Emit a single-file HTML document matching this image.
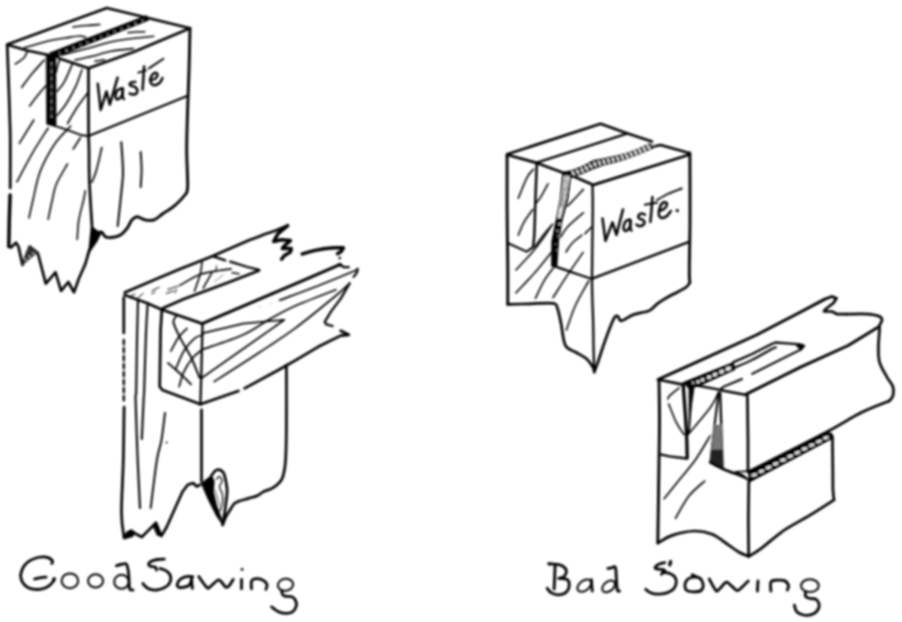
<!DOCTYPE html>
<html><head><meta charset="utf-8"><title>Good Sawing / Bad Sawing</title>
<style>
html,body{margin:0;padding:0;background:#fff;}
body{width:902px;height:622px;overflow:hidden;font-family:"Liberation Sans",sans-serif;}
svg{display:block;}
</style></head>
<body>
<svg width="902" height="622" viewBox="0 0 902 622" stroke-linecap="round" stroke-linejoin="round">
<defs><filter id="bl" filterUnits="userSpaceOnUse" x="0" y="0" width="902" height="622"><feGaussianBlur stdDeviation="0.8"/></filter></defs>
<rect width="902" height="622" fill="#fff"/>
<g filter="url(#bl)">
<path d="M7.2,44.6 L106.8,8 L143,16.8 L190,28.3" stroke="#000" stroke-width="2.7" fill="none"/>
<path d="M7.2,44.8 L27.3,50.5 L48.2,55" stroke="#000" stroke-width="2.7" fill="none"/>
<path d="M55.5,55.3 L59.5,58.5 L88.5,68.2" stroke="#000" stroke-width="2.7" fill="none"/>
<path d="M88.5,68.2 L133.5,52 L190,28.3" stroke="#000" stroke-width="2.7" fill="none"/>
<path d="M49.5,53 L146.5,15.6 L148.5,20.2 L54.5,57.5Z" fill="#000" stroke="#000" stroke-width="0.8"/>
<circle cx="59.5" cy="53" r="0.6" fill="#fff"/>
<circle cx="66.4" cy="50.3" r="0.6" fill="#fff"/>
<circle cx="73.3" cy="47.6" r="0.6" fill="#fff"/>
<circle cx="80.2" cy="44.9" r="0.6" fill="#fff"/>
<circle cx="87.2" cy="42.3" r="0.6" fill="#fff"/>
<circle cx="94.1" cy="39.6" r="0.6" fill="#fff"/>
<circle cx="101" cy="36.9" r="0.6" fill="#fff"/>
<circle cx="107.9" cy="34.2" r="0.6" fill="#fff"/>
<circle cx="114.8" cy="31.5" r="0.6" fill="#fff"/>
<circle cx="121.8" cy="28.9" r="0.6" fill="#fff"/>
<circle cx="128.7" cy="26.2" r="0.6" fill="#fff"/>
<circle cx="135.6" cy="23.5" r="0.6" fill="#fff"/>
<circle cx="142.5" cy="20.8" r="0.6" fill="#fff"/>
<path d="M190,28.3 C189.8,35.4 189.4,57.1 189,70.7 C188.6,84.3 188,96.8 187.6,110 C187.2,123.2 186.7,137.2 186.7,150 C186.7,162.8 188,179.4 187.6,187.1 C187.2,194.8 186.4,192.8 184,196 C181.6,199.2 176.9,203.7 173.4,206.6 C169.9,209.5 166,211.5 162.8,213.7 C159.6,215.9 156.9,218.9 154,219.9 C151.1,220.9 147.9,220.4 145.1,219.9 C142.3,219.4 139.4,216.8 137.2,216.8 C135,216.8 133.5,218.1 131.9,219.9 C130.3,221.7 129.3,225.3 127.4,227.8 C125.5,230.3 123.1,233.3 120.4,234.9 C117.8,236.5 114,237.2 111.5,237.5 C109,237.8 106.9,237.6 105.3,236.7 C103.7,235.8 102.9,232.9 101.8,232.2 C100.7,231.5 99.5,232.1 98.5,232.5 C97.5,232.9 96.7,235.7 95.6,234.9 C94.5,234.1 92.6,229 92,227.8" stroke="#000" stroke-width="2.9" fill="none"/>
<path d="M88.5,68.2 C88.5,75.2 88.5,98.7 88.5,110 C88.5,121.3 88.5,129.3 88.6,136 C88.7,142.7 88.9,142.4 89,150 C89.1,157.6 88.9,169.1 89.4,181.8 C89.9,194.5 91.6,218.6 92,226" stroke="#000" stroke-width="2.7" fill="none"/>
<path d="M88.6,136 L186.5,96.3" stroke="#000" stroke-width="2.3" fill="none"/>
<path d="M46.5,54.2 L55.8,55.5 L56,125.2 L47,124.2Z" fill="#000" stroke="#000" stroke-width="0.8"/>
<path d="M51.5,62 L51.6,118" stroke="#555" stroke-width="0.80" fill="none"/>
<circle cx="51.5" cy="63.8" r="0.5" fill="#fff"/>
<circle cx="51.5" cy="71.2" r="0.5" fill="#fff"/>
<circle cx="51.5" cy="78.8" r="0.5" fill="#fff"/>
<circle cx="51.5" cy="86.2" r="0.5" fill="#fff"/>
<circle cx="51.6" cy="93.8" r="0.5" fill="#fff"/>
<circle cx="51.6" cy="101.2" r="0.5" fill="#fff"/>
<circle cx="51.6" cy="108.8" r="0.5" fill="#fff"/>
<circle cx="51.6" cy="116.2" r="0.5" fill="#fff"/>
<path d="M48.5,123.8 L51.4,124.8 L64.3,128.8 L82,135.3 L88.6,136" stroke="#000" stroke-width="1.9" fill="none"/>
<path d="M7.2,44.8 C7.5,52 8.4,76.8 8.8,88 C9.2,99.2 9.3,103.3 9.6,112 C9.8,120.7 10.2,127.3 10.3,140 C10.4,152.7 10.2,180 10.2,188" stroke="#000" stroke-width="2.7" fill="none"/>
<path d="M10.1,195 C10,199.2 9.5,211.4 9.3,220 C9.1,228.6 8.9,242.2 8.8,246.6" stroke="#000" stroke-width="3.5" fill="none"/>
<path d="M8.8,246.6 L11,247.5 L16,242.6 L18.5,246.6 L22.5,265 L29.7,246.6 L37.8,253 L45.8,283.6 L55.5,272.3 L61.1,290.8 L68.3,282 L74,292.4 L78.8,278.8 L85.2,264.3 L90,248.2 L92,228" stroke="#000" stroke-width="2.7" fill="none"/>
<path d="M22.5,264 L29.7,246.6 L37.5,253 L33,256 L26,262Z" fill="#333" stroke="#333" stroke-width="0.8"/>
<circle cx="25.8" cy="259.5" r="0.7" fill="#fff"/>
<circle cx="29.5" cy="256.5" r="0.7" fill="#fff"/>
<circle cx="33.2" cy="253.5" r="0.7" fill="#fff"/>
<path d="M92.4,227 L101,233.5 L97,241.5 L89,253 L86.8,255 L90,246Z" fill="#000" stroke="#000" stroke-width="0.8"/>
<path d="M27.3,51.3 C26.8,52.4 26,55.6 24,57.7 C22,59.8 16.8,63 15.3,64" stroke="#000" stroke-width="1.6" fill="none"/>
<path d="M44.2,60 C42.2,62.3 35.8,69.2 32,73.8 C28.2,78.4 23.4,85.1 21.7,87.4" stroke="#000" stroke-width="1.6" fill="none"/>
<path d="M45.8,85.8 C44.3,87.5 39.7,92.9 37,96.3 C34.3,99.7 30.9,104.4 29.7,106" stroke="#000" stroke-width="1.6" fill="none"/>
<path d="M59.5,60 C59.1,61.3 57.5,66 57,68 C56.5,70 56.4,71.3 56.3,72" stroke="#000" stroke-width="1.6" fill="none"/>
<path d="M72.3,64 C71,67 66.8,77.2 64.3,81.8 C61.8,86.4 58.2,89.8 57,91.4" stroke="#000" stroke-width="1.6" fill="none"/>
<path d="M82,69.7 C80.9,72.5 78.3,80.8 75.6,86.6 C72.9,92.4 69,99.5 65.9,104.3 C62.8,109.1 58.5,113.7 57,115.6" stroke="#000" stroke-width="1.6" fill="none"/>
<path d="M87.6,93 C85.8,95.4 80.3,102.4 77,107.5 C73.7,112.6 69.1,120.9 67.5,123.6" stroke="#000" stroke-width="1.6" fill="none"/>
<path d="M33.8,120 L19.3,143.3" stroke="#000" stroke-width="1.6" fill="none"/>
<path d="M48.2,128 C45.5,132.3 37.2,144.8 32,153.8 C26.8,162.8 19.4,177.2 16.9,181.9" stroke="#000" stroke-width="1.6" fill="none"/>
<path d="M70.7,126 C68,129 59.8,136.4 54.7,144 C49.6,151.6 43.8,162.1 40.2,171.4 C36.6,180.7 34.9,192.2 33,200 C31.1,207.8 29.7,215 29,218" stroke="#000" stroke-width="1.6" fill="none"/>
<path d="M67.5,164 C65.6,167.4 58.8,178.3 56.3,184.3 C53.8,190.3 53.6,194.2 52.3,200 C50.9,205.8 48.9,216.1 48.2,219.3" stroke="#000" stroke-width="1.6" fill="none"/>
<path d="M80.4,137.7 L73.2,149" stroke="#000" stroke-width="1.6" fill="none"/>
<path d="M85.2,190.7 C84.9,192.2 84.7,195.1 83.6,200 C82.5,204.9 79.9,213.4 78.8,220 C77.7,226.6 77.5,236.2 77.2,239.4" stroke="#000" stroke-width="1.6" fill="none"/>
<path d="M72.9,27 C75.1,26.8 81.5,25.9 86,25.5 C90.5,25.1 97.6,24.7 99.9,24.5" stroke="#000" stroke-width="1.6" fill="none"/>
<path d="M24,48 C28,46.8 41.2,42.7 48,41 C54.8,39.3 59.7,38.8 65,38 C70.3,37.2 76.2,36.1 79.6,36 C83,35.9 84.6,37.2 85.6,37.4" stroke="#000" stroke-width="1.6" fill="none"/>
<path d="M128,32.7 C129.3,32.6 133.2,32.1 136,32 C138.8,31.9 143.3,31.8 144.8,31.8" stroke="#000" stroke-width="1.6" fill="none"/>
<path d="M62,55 C66.7,53.8 80.9,50.1 90,47.7 C99.1,45.3 105.9,42.6 116.5,40.7 C127.1,38.8 147.5,37 153.7,36.3" stroke="#000" stroke-width="1.6" fill="none"/>
<path d="M75,60 C77.8,59.4 86,57.8 92,56.3 C98,54.8 104.1,52.6 111,51.3 C117.9,50 129.6,49 133.3,48.6" stroke="#000" stroke-width="1.6" fill="none"/>
<path d="M94.9,61.2 L104.5,59.7" stroke="#000" stroke-width="1.6" fill="none"/>
<path d="M101.8,147.5 C100.9,151.2 98.1,164.2 96.5,170 C94.9,175.8 92.8,180 92,182" stroke="#000" stroke-width="1.7" fill="none"/>
<path d="M121.3,142.2 C121.6,146.8 122.9,162.8 123,170 C123.1,177.2 123,176.1 122.1,185.4 C121.2,194.7 118.4,219.2 117.7,226" stroke="#000" stroke-width="2" fill="none"/>
<path d="M140.7,152 C140.8,154.9 141.6,163.7 141.6,169.5 C141.6,175.3 140.8,184.2 140.7,187.1" stroke="#000" stroke-width="1.9" fill="none"/>
<path d="M97.8,83.8 L100.7,109.9 L106.5,91.5 L109.8,104.6 L117.6,77.6" stroke="#000" stroke-width="2.5" fill="none"/>
<path d="M122.5,88.2 C121.6,88.6 118.2,89.1 117.1,90.6 C115.9,92.1 115.4,95.8 115.6,97.3 C115.8,98.8 117,99.6 118,99.3 C119,99 121.1,97.2 121.9,95.4 C122.7,93.6 122.7,89.8 122.9,88.7" stroke="#000" stroke-width="2.5" fill="none"/>
<path d="M122.9,88.7 L122.6,97.5 L124,99" stroke="#000" stroke-width="2.5" fill="none"/>
<path d="M135.4,81.9 C134.6,82.1 131.5,82.3 130.6,82.9 C129.7,83.5 129.5,84.7 130.1,85.3 C130.7,85.9 133.2,86 134.4,86.7 C135.6,87.4 137,88.5 137.3,89.6 C137.6,90.7 137.2,92.7 136.4,93.5 C135.6,94.3 133.6,94.4 132.5,94.4 C131.4,94.4 130.1,93.7 129.6,93.5" stroke="#000" stroke-width="2.5" fill="none"/>
<path d="M144.1,66.5 L142.6,89.6" stroke="#000" stroke-width="2.5" fill="none"/>
<path d="M138.3,72.7 L146,70.3" stroke="#000" stroke-width="1.9" fill="none"/>
<path d="M148.9,68.4 L163.4,58.8" stroke="#000" stroke-width="1.9" fill="none"/>
<path d="M149.9,80 C150.7,79.8 153.4,79.8 154.7,79 C156,78.2 157.4,76.1 157.6,75.1 C157.8,74 156.6,72.8 155.7,72.7 C154.8,72.6 153.2,73.5 152.3,74.7 C151.4,75.9 150.5,78.4 150.4,80 C150.3,81.6 150.8,83.5 151.8,84.3 C152.8,85.1 155.2,85.2 156.6,84.8 C158,84.4 159.5,83 160.5,81.9 C161.5,80.8 162.1,78.7 162.4,78" stroke="#000" stroke-width="2.5" fill="none"/>
<path d="M124.7,292.4 L153.9,280 L180,268.9 L202.2,260.3 L212.8,255.9 L249.5,240 L257.9,237 L263.8,234.5 L274.5,231 L287.7,225.6" stroke="#000" stroke-width="2.7" fill="none"/>
<path d="M287.7,225.6 L278,233.6 L273.6,241.5 L281.5,239.8 L290.4,240.6 L284.2,246 L282.4,248.6 L291.3,248.6 L290.4,252.1 L284.2,255.7 L281.5,259.2" stroke="#000" stroke-width="3.5" fill="none"/>
<path d="M302.2,254 C304.6,253.3 311.8,251.1 316.6,250.1 C321.4,249.1 326.6,248.3 331,247.9 C335.4,247.5 341.2,247.9 343.3,247.9" stroke="#000" stroke-width="3.5" fill="none"/>
<path d="M343.3,247.9 L341.1,251.5 L337.5,253.7" stroke="#000" stroke-width="3.5" fill="none"/>
<ellipse cx="339.8" cy="258" rx="1.6" ry="1.1" transform="rotate(-30 339.8 258)" fill="#000"/>
<path d="M339.1,264 L344,267.2 L348.8,267.2" stroke="#000" stroke-width="2.3" fill="none"/>
<path d="M124.7,295 L146.8,303 L161,309.2" stroke="#000" stroke-width="2.7" fill="none"/>
<path d="M162.8,308.3 L183.9,298.9 L228.2,282.5 L259.1,270.4" stroke="#000" stroke-width="2.7" fill="none"/>
<path d="M213.3,256.4 L225.3,260.3" stroke="#000" stroke-width="2.3" fill="none"/>
<path d="M230.2,261.7 L247.5,267 L259.1,269.9" stroke="#000" stroke-width="2.3" fill="none"/>
<path d="M202.2,260.7 C201.9,262.9 201.6,268.7 200.3,273.8 C199,278.9 195.5,288.2 194.5,291.1" stroke="#000" stroke-width="1.6" fill="none"/>
<path d="M211.8,272.8 L203.2,288.2" stroke="#000" stroke-width="1.6" fill="none"/>
<path d="M216.7,266 L215.7,271.8" stroke="#000" stroke-width="1" fill="none"/>
<path d="M180,285.3 C183.2,283.5 193.2,277.1 199.3,274.7 C205.4,272.3 211.4,271.9 216.7,270.9 C222,269.9 228.7,269.2 231.1,268.9" stroke="#000" stroke-width="1.6" fill="none"/>
<path d="M232.1,272.8 L238.9,273.8" stroke="#000" stroke-width="1.6" fill="none"/>
<path d="M214.7,281.5 L223.4,274.7" stroke="#666" stroke-width="0.80" fill="none"/>
<path d="M138,297.8 L143.3,293.4" stroke="#000" stroke-width="1" fill="none"/>
<path d="M152.1,290.7 L159.2,287.2" stroke="#000" stroke-width="1" fill="none"/>
<path d="M166.3,293.4 L173.4,291" stroke="#000" stroke-width="1" fill="none"/>
<path d="M151.8,293.7 L155,292" stroke="#000" stroke-width="1" fill="none"/>
<path d="M176.5,289.2 L174.8,292.8" stroke="#000" stroke-width="1" fill="none"/>
<path d="M167.7,289.5 L178.3,286" stroke="#000" stroke-width="1" fill="none"/>
<path d="M131,296 L135,294" stroke="#000" stroke-width="1" fill="none"/>
<path d="M123.8,297.7 L123.8,333" stroke="#000" stroke-width="2.7" fill="none"/>
<path d="M123.8,340 L123.8,344.5" stroke="#000" stroke-width="2.3" fill="none"/>
<path d="M123.8,348 L123.8,352.5" stroke="#000" stroke-width="2.3" fill="none"/>
<path d="M123.8,356 L123.8,360.5" stroke="#000" stroke-width="2.3" fill="none"/>
<path d="M123.8,364 L123.8,368.5" stroke="#000" stroke-width="2.3" fill="none"/>
<path d="M123.8,372 L123.8,376.5" stroke="#000" stroke-width="2.3" fill="none"/>
<path d="M123.8,380 L123.8,384.5" stroke="#000" stroke-width="2.3" fill="none"/>
<path d="M123.8,388 L123.8,392.5" stroke="#000" stroke-width="2.3" fill="none"/>
<path d="M123.8,396 L123.8,400.5" stroke="#000" stroke-width="2.3" fill="none"/>
<path d="M124.1,407 C124,415.8 123.7,442.3 123.3,460 C122.9,477.7 121.4,500 121.5,513 C121.6,526 123.7,533.7 124.1,537.8" stroke="#000" stroke-width="2.7" fill="none"/>
<path d="M138,299.5 C137.8,306.2 137.3,324.9 137,340 C136.7,355.1 136.4,380 136.2,390 C136,400 135.4,389.5 135.6,400 C135.8,410.5 136.7,435 137.4,453 C138.1,471 139.6,498.8 140,508" stroke="#000" stroke-width="2.1" fill="none"/>
<path d="M147.7,303 C147.4,308 146.6,318.5 146,333 C145.4,347.5 144.6,378.8 144.2,390 C143.8,401.2 144,391.8 143.6,400 C143.2,408.2 142.1,432.5 141.8,439" stroke="#000" stroke-width="2.1" fill="none"/>
<path d="M165,413 C164.4,417.5 162.8,432.2 161.5,440 C160.2,447.8 158.7,448.7 156.9,460 C155.1,471.3 151.7,500 150.7,508" stroke="#000" stroke-width="1.9" fill="none"/>
<circle cx="166.6" cy="442.4" r="1" fill="#000"/>
<path d="M161.9,309.2 L160.6,330 L159.7,386.6 L162.4,390 L200.4,404.3" stroke="#000" stroke-width="2.7" fill="none"/>
<path d="M162.8,310 L202.2,323.6" stroke="#000" stroke-width="2.7" fill="none"/>
<path d="M202.5,324.2 L201.3,374.2 L200.4,404.3" stroke="#000" stroke-width="2.3" fill="none"/>
<path d="M176,316.3 C175.6,317.3 172.9,319.1 173.5,322.5 C174.1,325.9 177.2,331.9 179.5,336.6 C181.8,341.3 185.3,346.8 187.5,350.7 C189.7,354.6 190.4,355.5 192.4,360 C194.4,364.5 198.3,374.8 199.5,377.7" stroke="#000" stroke-width="1.9" fill="none"/>
<path d="M168,363 C169.4,364.2 174.2,368.3 176.7,370.5 C179.2,372.7 180.6,374.1 183,376.4 C185.4,378.7 189.7,383 191,384.3" stroke="#000" stroke-width="1.9" fill="none"/>
<path d="M170.9,351 C172.2,348.8 175.8,341.2 178.5,337.5 C181.2,333.8 185.6,330 187,328.5" stroke="#000" stroke-width="1.7" fill="none"/>
<path d="M176,368.4 C177.3,365.4 180.9,355.7 184,350.7 C187.1,345.7 191.4,341 194.6,338.4 C197.8,335.8 201.6,335.4 203,334.8" stroke="#000" stroke-width="1.7" fill="none"/>
<path d="M179.2,386.6 C179.9,384.2 181.4,377.1 183.6,372.4 C185.8,367.7 189.3,362.1 192.4,358.3 C195.5,354.5 200.6,351 202.2,349.5" stroke="#000" stroke-width="1.7" fill="none"/>
<path d="M202.2,323.6 L270,294.6 L302.2,280.9 L337.5,265.6 L340.7,264.8" stroke="#000" stroke-width="3.1" fill="none"/>
<path d="M203,333.2 L243.2,323.6 L284.4,319.8 L243,349 L201.4,378.2" stroke="#000" stroke-width="1.7" fill="none"/>
<path d="M203,349.3 C209.7,346.9 232,339.9 243.2,334.8 C254.4,329.8 261.4,323.8 270,319 C278.6,314.2 284,310.9 295,306 C306,301.1 329.1,292.4 335.9,289.7" stroke="#000" stroke-width="1.7" fill="none"/>
<path d="M214.3,381.5 C221.8,376.7 245.9,361.4 259.3,352.5 C272.8,343.6 282.5,337.6 295,328.4 C307.5,319.1 325.2,304.5 334.3,297 C343.4,289.5 347.1,285.6 349.6,283.3" stroke="#000" stroke-width="1.7" fill="none"/>
<path d="M279.6,300.2 C286,297.8 305.9,290.5 318.2,285.7 C330.5,280.9 347,274.1 353.6,271.3 C360.2,268.5 356.9,269.2 357.6,268.8" stroke="#000" stroke-width="1.7" fill="none"/>
<path d="M357.6,268.8 L356.8,272.9 L353.6,276.9" stroke="#000" stroke-width="2.3" fill="none"/>
<circle cx="259.3" cy="306.7" r="0.6" fill="#888"/>
<circle cx="270.6" cy="303.5" r="0.6" fill="#888"/>
<path d="M349.6,283.3 L340.7,298.6 L331.1,311.4 L324.7,321.9 L326.3,324.3 L332.7,326" stroke="#000" stroke-width="2.3" fill="none"/>
<path d="M340.7,330.7 L348.8,334.8 L340.7,335.6 L318.2,346.8 L295,360.6 L278.4,370 L244.6,388.4" stroke="#000" stroke-width="2.7" fill="none"/>
<path d="M238.4,391 L200.4,404.3" stroke="#000" stroke-width="2.7" fill="none"/>
<path d="M201.5,409.8 L201.5,481.4" stroke="#000" stroke-width="2.7" fill="none"/>
<path d="M286.4,365 C286.4,375.3 286.5,410.6 286.4,426.6 C286.2,442.6 286.2,452.5 285.5,461.2 C284.8,469.9 284.1,474.5 282,478.9 C279.9,483.3 276.1,485.6 273.1,487.7 C270.2,489.8 267,490 264.3,491.3 C261.6,492.6 259.8,494.5 257.2,495.7 C254.5,496.9 251.3,497.5 248.4,498.4 C245.5,499.3 241.9,500.1 239.5,501 C237.1,501.9 235.7,502.4 234.2,503.7 C232.7,505 232.2,506.6 230.7,509 C229.2,511.4 226.7,515.1 225.4,517.8 C224.1,520.4 223.1,523.7 222.7,524.9" stroke="#000" stroke-width="2.7" fill="none"/>
<path d="M201.5,483.3 L208,478 L211.5,475.5 L214.2,481 L213.5,492 L216.5,505 L221,517 L222.7,524.9 L216.5,516 L207.7,498.4 L202.4,486Z" fill="#000" stroke="#000" stroke-width="0.8"/>
<path d="M211.5,475.5 C212.3,474.6 214.6,470.6 216.5,470 C218.4,469.4 221.2,470.3 222.7,471.8 C224.2,473.3 224.7,475.6 225.4,478.9 C226.1,482.1 227.1,486.6 227.1,491.3 C227.1,496 226.1,501.6 225.4,507.2 C224.7,512.8 223.1,521.9 222.7,524.9" stroke="#000" stroke-width="2.7" fill="none"/>
<path d="M216.5,479 C217,478.6 218.6,476.2 219.5,476.5 C220.4,476.8 222,479.2 222,481 C222,482.8 219.4,484.8 219.5,487 C219.6,489.2 221.8,491.3 222.3,494 C222.8,496.7 222.9,500.2 222.5,503 C222.1,505.8 220.4,509.7 220,511" stroke="#000" stroke-width="1.3" fill="none"/>
<path d="M215,490 C215.4,491.3 216.8,495.3 217.5,498 C218.2,500.7 219.2,504.7 219.5,506" stroke="#444" stroke-width="1" fill="none"/>
<path d="M124.1,537.8 L127.7,532.5 L131.2,530.7 L136.5,534.3 L141.8,537 L148.9,529.9 L156,522.8 L161.3,536 L166.6,527.2 L173.7,511.3 L182.5,491.8 L187.8,484.8 L193.1,483 L196.7,486.5 L200.2,484.8" stroke="#000" stroke-width="2.7" fill="none"/>
<path d="M124.1,538.5 L126.5,532.5 L131.2,530.7 L134.5,533.5 L133,536.5 L126,538.6Z" fill="#000" stroke="#000" stroke-width="0.8"/>
<path d="M153,525.5 L156,522.8 L161.3,536 L157.5,535.5Z" fill="#000" stroke="#000" stroke-width="0.8"/>
<path d="M507.1,154.2 L600.6,123.8 L625.4,132.7 L651.9,141.5" stroke="#000" stroke-width="2.7" fill="none"/>
<path d="M536.8,162.6 L582,148.2 L627.7,133.4" stroke="#000" stroke-width="2.3" fill="none"/>
<path d="M507.1,154.8 L536.8,162.9 L562.5,172.5" stroke="#000" stroke-width="2.7" fill="none"/>
<path d="M563.5,172 L571.1,170.8 L582.2,166.6 L593.3,160.6 L604.3,158.6 L615.4,156.2 L626.5,153.4 L637.6,149.2 L648.7,144.2 L652.5,142 L653.5,147.8 L648.7,150 L637.6,154.6 L626.5,158.8 L615.4,162.2 L604.3,164.8 L593.3,168.8 L582.2,173.6 L571.1,177.6 L565,177Z" fill="#000" stroke="#000" stroke-width="0.8"/>
<line x1="572.7" y1="172.3" x2="573.9" y2="174.5" stroke="#fff" stroke-width="1.9"/>
<line x1="577.1" y1="170.7" x2="578.3" y2="172.8" stroke="#fff" stroke-width="1.9"/>
<line x1="581.5" y1="169" x2="582.8" y2="171.2" stroke="#fff" stroke-width="1.9"/>
<line x1="585.6" y1="167.1" x2="587.1" y2="169.1" stroke="#fff" stroke-width="1.9"/>
<line x1="589.8" y1="165" x2="591.3" y2="167" stroke="#fff" stroke-width="1.9"/>
<line x1="594.4" y1="163.1" x2="595.4" y2="165.4" stroke="#fff" stroke-width="1.9"/>
<line x1="598.9" y1="161.9" x2="600" y2="164.2" stroke="#fff" stroke-width="1.9"/>
<line x1="603.4" y1="160.7" x2="604.5" y2="162.9" stroke="#fff" stroke-width="1.9"/>
<line x1="608.1" y1="159.6" x2="609" y2="161.9" stroke="#fff" stroke-width="1.9"/>
<line x1="612.7" y1="158.6" x2="613.6" y2="160.9" stroke="#fff" stroke-width="1.9"/>
<line x1="617.2" y1="157.4" x2="618.2" y2="159.7" stroke="#fff" stroke-width="1.9"/>
<line x1="621.7" y1="156.2" x2="622.8" y2="158.4" stroke="#fff" stroke-width="1.9"/>
<line x1="626.1" y1="154.9" x2="627.4" y2="157.1" stroke="#fff" stroke-width="1.9"/>
<line x1="630.5" y1="153.3" x2="631.8" y2="155.4" stroke="#fff" stroke-width="1.9"/>
<line x1="634.9" y1="151.6" x2="636.2" y2="153.8" stroke="#fff" stroke-width="1.9"/>
<line x1="639.2" y1="149.9" x2="640.6" y2="152" stroke="#fff" stroke-width="1.9"/>
<line x1="643.5" y1="148" x2="644.9" y2="150.1" stroke="#fff" stroke-width="1.9"/>
<line x1="647.8" y1="146.1" x2="649.2" y2="148.2" stroke="#fff" stroke-width="1.9"/>
<line x1="652" y1="144.1" x2="653.5" y2="146" stroke="#fff" stroke-width="1.9"/>
<path d="M651.9,146.8 L660.7,145 L689,153" stroke="#000" stroke-width="2.7" fill="none"/>
<path d="M572.1,175.7 L592.2,184.6" stroke="#000" stroke-width="2.7" fill="none"/>
<path d="M593.5,184.9 L689,154.8" stroke="#000" stroke-width="2.7" fill="none"/>
<path d="M689.9,153 C689.9,164.2 690.1,200.3 690,220 C689.9,239.7 689.3,260.8 689.3,271.2 C689.3,281.6 689.8,280.6 689.9,282.5" stroke="#000" stroke-width="2.9" fill="none"/>
<path d="M592.4,184.8 C592.5,189 592.9,194.3 592.8,210 C592.7,225.7 592,260.7 592,279 C592,297.3 592.8,308.2 593.1,320 C593.4,331.8 593.4,341.3 593.6,350 C593.8,358.7 594.1,368.3 594.2,372" stroke="#000" stroke-width="2.3" fill="none"/>
<path d="M593.5,278.2 L689,241.9" stroke="#000" stroke-width="2.5" fill="none"/>
<path d="M507.1,154.8 C507.1,164 507,190.8 507.1,210 C507.2,229.2 507.7,254.3 507.8,270 C507.9,285.7 507.8,298.7 507.8,304.4" stroke="#000" stroke-width="2.9" fill="none"/>
<path d="M507.8,304.4 C511.5,304.3 522.4,304 530,303.8 C537.6,303.6 548.6,302.5 553.2,303.3 C557.8,304.1 556.3,305.5 557.6,308.8 C558.9,312.1 559.7,317.1 561,323.2 C562.3,329.3 563,340.6 565.4,345.4 C567.8,350.2 571.9,349.8 575.4,352 C578.9,354.2 583.5,356.1 586.5,358.7 C589.5,361.3 591.8,365.4 593.1,367.6 C594.4,369.8 594,371.3 594.2,372" stroke="#000" stroke-width="2.7" fill="none"/>
<path d="M594.2,372 C594.8,370.5 595.9,367.9 597.6,363.1 C599.3,358.3 602.1,349.1 604.2,343.2 C606.3,337.3 608.3,331.8 610,327.5 C611.7,323.2 613.2,319.3 614.5,317.4 C615.8,315.5 616.8,315.6 617.9,316.2 C619,316.8 618.9,321 621.3,320.8 C623.7,320.6 629.3,316.4 632.5,315.1 C635.7,313.8 637.6,313.6 640.4,312.9 C643.2,312.1 646.6,312.1 649.4,310.6 C652.2,309.1 654.8,305.8 657.2,303.9 C659.6,302 661.4,301 664,299.4 C666.6,297.8 669.8,296 673,294.3 C676.2,292.6 680.7,290.6 683.1,289.2 C685.5,287.8 686.5,287 687.6,285.9 C688.7,284.8 689.5,283.1 689.9,282.5" stroke="#000" stroke-width="2.7" fill="none"/>
<path d="M536.8,162.9 C536.6,169.1 535.8,188 535.4,200 C535,212 534.7,227.1 534.3,235 C533.9,242.9 533.2,245.4 533,247.5" stroke="#000" stroke-width="2.5" fill="none"/>
<path d="M507.1,242.7 L526.5,251.6 L532.7,247.5" stroke="#000" stroke-width="2.1" fill="none"/>
<path d="M562.8,172.6 L560.3,198.8 L556,220.7 L551.8,241 L551.6,266.3 L554.5,267.5 L556.9,266.3 L558.6,241 L562,220.7 L567.9,198.8 L571.2,173.4Z" fill="#000" stroke="#000" stroke-width="0.8"/>
<path d="M564.6,176.5 L563.2,190 L561.8,200 L559.5,211 L558.3,218 L560,218 L562.6,208 L565.4,198 L567.2,186 L569,176.5Z" fill="#fff" stroke="#fff" stroke-width="0.8"/>
<path d="M566.5,177 C566.3,178.8 565.8,184.3 565.2,188 C564.7,191.7 563.8,195.8 563.2,199 C562.6,202.2 561.7,205.7 561.4,207" stroke="#000" stroke-width="1" fill="none"/>
<circle cx="559.5" cy="224" r="0.9" fill="#fff"/>
<circle cx="557.5" cy="231" r="0.8" fill="#fff"/>
<circle cx="558.2" cy="236" r="0.7" fill="#fff"/>
<circle cx="555.8" cy="244" r="0.6" fill="#fff"/>
<circle cx="556.5" cy="250" r="0.5" fill="#fff"/>
<path d="M555.7,266.6 C558.2,267.5 564.7,269.8 570.7,271.9 C576.8,274 588.5,277.8 592,279" stroke="#000" stroke-width="2.3" fill="none"/>
<path d="M533.5,169.3 C532.4,170.6 529.6,172.5 527.1,177.3 C524.6,182.1 519.8,194.7 518.3,198.2" stroke="#000" stroke-width="1.6" fill="none"/>
<path d="M532.7,209.5 C531.2,211.6 526.3,218 523.9,222.3 C521.5,226.6 519.2,233 518.3,235.2" stroke="#000" stroke-width="1.6" fill="none"/>
<path d="M548,183.8 C546.7,186.2 542,195 540,198.2 C538,201.4 536.7,202.2 536,203" stroke="#000" stroke-width="1.6" fill="none"/>
<path d="M552.8,224 C551.2,225.9 546.1,231.4 543.2,235.2 C540.3,238.9 536.5,244.6 535.2,246.5" stroke="#000" stroke-width="1.6" fill="none"/>
<path d="M583.4,189.4 C581.5,191.4 574.8,198.6 572.1,201.4 C569.4,204.2 568.1,205.5 567.3,206.3" stroke="#000" stroke-width="1.6" fill="none"/>
<path d="M583.4,212.7 C580.7,215.1 571,223.2 567.3,227.2 C563.5,231.2 562,235.2 560.9,236.8" stroke="#000" stroke-width="1.6" fill="none"/>
<path d="M581.8,235.2 C580.2,236.5 574.7,240.4 572.1,243.2 C569.5,246 567,250.5 566,252" stroke="#000" stroke-width="1.6" fill="none"/>
<path d="M591.4,227.2 L585,233.6" stroke="#000" stroke-width="1.6" fill="none"/>
<path d="M515.9,270 C518.9,266.8 528.9,256.2 533.6,250.7 C538.3,245.2 541,241.1 544,237 C547,232.9 550.1,227.8 551.3,226" stroke="#000" stroke-width="1.6" fill="none"/>
<path d="M515.9,293 C519.1,289.5 529.5,278.7 535.4,271.9 C541.3,265.1 548.6,255.7 551.3,252.4" stroke="#000" stroke-width="1.6" fill="none"/>
<path d="M535.4,298.4 C536.9,295.4 541.3,285.7 544.2,280.7 C547.1,275.7 551.5,270.4 553,268.4" stroke="#000" stroke-width="1.6" fill="none"/>
<path d="M553,297.7 C555.4,294 562.2,282.9 567.2,275.4 C572.2,267.8 580.5,256.2 583.1,252.4" stroke="#000" stroke-width="1.6" fill="none"/>
<path d="M566.5,329.9 C568,325.8 571.7,313.6 575.4,305.5 C579.1,297.4 586.5,285.1 588.7,281" stroke="#000" stroke-width="1.6" fill="none"/>
<path d="M602.5,218.4 L605.5,240.9 L612.5,222.4 L616.5,234.9 L623,209.4" stroke="#000" stroke-width="2.5" fill="none"/>
<path d="M629.8,219.5 C629.1,219.8 626.5,220.1 625.5,221.5 C624.5,222.9 623.5,226.4 623.5,228 C623.5,229.6 624.5,231.1 625.5,231 C626.5,230.9 628.7,229.2 629.5,227.5 C630.3,225.8 630.3,221.7 630.5,220.5" stroke="#000" stroke-width="2.5" fill="none"/>
<path d="M630.5,220.5 L630.3,229 L631.5,230.5" stroke="#000" stroke-width="2.5" fill="none"/>
<path d="M645,214.6 C644.4,214.4 642.6,213.4 641.5,213.6 C640.4,213.8 638.7,214.8 638.4,215.6 C638.1,216.4 638.7,217.9 639.5,218.6 C640.3,219.3 642.1,219.3 643,220 C643.9,220.7 644.7,221.7 644.6,222.6 C644.5,223.5 643.5,224.8 642.5,225.4 C641.5,226 639.5,226.1 638.5,225.9 C637.5,225.8 636.8,224.7 636.4,224.5" stroke="#000" stroke-width="2.5" fill="none"/>
<path d="M652.4,197 L651.5,210 L650.4,221.9" stroke="#000" stroke-width="2.5" fill="none"/>
<path d="M644.9,204.8 L650,203.8 L656.9,202.8" stroke="#000" stroke-width="2.1" fill="none"/>
<path d="M656.9,200 C658.7,199 663.8,195.9 667.9,194 C672,192.1 679.5,189.4 681.8,188.5" stroke="#000" stroke-width="1.9" fill="none"/>
<path d="M658.9,211 C659.7,210.7 662.6,210 663.9,209 C665.2,208 666.6,206.1 666.9,205 C667.2,203.9 666.6,202.8 665.9,202.5 C665.1,202.2 663.5,201.9 662.4,203 C661.3,204.1 660,207 659.4,209 C658.8,211 658.5,213.5 658.9,215 C659.3,216.5 660.6,217.8 661.9,218 C663.2,218.2 665.4,217.2 666.9,216 C668.4,214.8 670.2,211.8 670.9,211" stroke="#000" stroke-width="2.5" fill="none"/>
<circle cx="677.3" cy="210.6" r="1.7" fill="#000"/>
<path d="M658,379.5 L680,369.6 L756.4,335 L793,316 L824.9,299.1 L832,296.5 L836.4,298.3" stroke="#000" stroke-width="2.9" fill="none"/>
<path d="M836.4,298.3 L833.7,302.7 L824.9,309.8 L824,311.5 L832,311.5 L837.3,314.2 L846.1,314.2" stroke="#000" stroke-width="2.7" fill="none"/>
<path d="M846.1,314.2 C849.7,314.2 861.9,313.7 867.5,314.1 C873.1,314.5 877.2,315.5 879.6,316.5 C882,317.5 882,318.7 882,320.1 C882,321.5 880,324.2 879.6,325" stroke="#000" stroke-width="2.7" fill="none"/>
<path d="M879.6,328.6 C879.4,331.8 878.4,342.3 878.4,347.9 C878.4,353.5 878.2,357.5 879.6,362.3 C881,367.1 884.6,372.8 886.8,376.8 C889,380.8 891.8,383.3 892.8,386.5 C893.8,389.7 893.4,393.7 892.8,396.1 C892.2,398.5 889.8,400.1 889.2,400.9" stroke="#000" stroke-width="2.7" fill="none"/>
<path d="M889.2,400.9 C884.4,402.9 871,407.6 860.3,413 C849.6,418.4 843.6,423.2 824.9,433 C806.2,442.8 760.8,465.5 748,472" stroke="#000" stroke-width="2.7" fill="none"/>
<path d="M746.3,394.1 L800,367.4 L848.2,345.5 L879.6,326.2" stroke="#000" stroke-width="2.9" fill="none"/>
<path d="M683,382.5 L733.3,362.4 L735,369.6 L700,385.4 L689.5,388.8Z" fill="#000" stroke="#000" stroke-width="0.8"/>
<ellipse cx="692.9" cy="383.4" rx="1.50" ry="1.25" transform="rotate(-20 692.9 383.4)" fill="#fff"/>
<ellipse cx="698.1" cy="381.7" rx="1.72" ry="1.30" transform="rotate(-20 698.1 381.7)" fill="#fff"/>
<ellipse cx="702.6" cy="379.8" rx="1.94" ry="1.35" transform="rotate(-20 702.6 379.8)" fill="#fff"/>
<ellipse cx="709.1" cy="377.1" rx="2.16" ry="1.40" transform="rotate(-20 709.1 377.1)" fill="#fff"/>
<ellipse cx="714.9" cy="374.5" rx="2.38" ry="1.45" transform="rotate(-20 714.9 374.5)" fill="#fff"/>
<ellipse cx="721.6" cy="371.7" rx="2.60" ry="1.50" transform="rotate(-20 721.6 371.7)" fill="#fff"/>
<ellipse cx="728.3" cy="368.7" rx="2.82" ry="1.55" transform="rotate(-20 728.3 368.7)" fill="#fff"/>
<path d="M733,362.4 L751.6,354.2 L772.3,343.8 L775.6,342.5 L799.6,344.4 L804,345.8 L801.1,349.4" stroke="#000" stroke-width="2.3" fill="none"/>
<path d="M734,367.8 C736.9,366.5 745.2,363.3 751.6,360.1 C758,356.9 768.2,350.9 772.3,348.8 C776.4,346.7 775.4,347.6 776,347.3" stroke="#000" stroke-width="2.1" fill="none"/>
<path d="M798,343.5 L804.5,345.5 L801.5,349.5 L797,347Z" fill="#000" stroke="#000" stroke-width="0.8"/>
<path d="M801.1,349.4 L752.1,373.9" stroke="#000" stroke-width="2.1" fill="none"/>
<path d="M742,379 L723.2,386.9 L720.4,389.5" stroke="#000" stroke-width="2.1" fill="none"/>
<path d="M659,379.8 L683.1,384.6" stroke="#000" stroke-width="2.7" fill="none"/>
<path d="M691.5,384.5 L720.4,389.8" stroke="#000" stroke-width="2.3" fill="none"/>
<path d="M720.9,390.3 L746.6,395.1" stroke="#000" stroke-width="2.5" fill="none"/>
<path d="M659,379.8 C659.1,386.5 659.5,406.6 659.5,420 C659.5,433.4 659.3,439.5 659,460 C658.7,480.5 658,529.2 657.8,543.1" stroke="#000" stroke-width="2.9" fill="none"/>
<path d="M683.2,384.8 C683.5,389 684.4,401.4 685,410 C685.6,418.6 686.2,428.1 686.6,436.1 C687,444.1 687.1,454.4 687.2,458" stroke="#000" stroke-width="3.3" fill="none"/>
<path d="M692,386.4 C691.8,390.3 691,402.2 690.5,410 C690,417.8 689.1,429.2 688.8,433" stroke="#000" stroke-width="1.9" fill="none"/>
<path d="M689.2,387.8 L694,388 L690.8,410 L689.2,424Z" fill="#000" stroke="#000" stroke-width="0.8"/>
<path d="M659,454.2 L669.5,456.3 L686.3,458.5" stroke="#000" stroke-width="2.3" fill="none"/>
<path d="M679.1,387.9 C677.5,389.2 671.4,394 669.5,395.9 C667.6,397.8 668.2,398.6 667.9,399.1" stroke="#000" stroke-width="1.6" fill="none"/>
<path d="M668.7,403.9 C669.9,406.8 673.4,416.5 675.9,421.6 C678.4,426.7 682.6,432.4 683.9,434.5" stroke="#000" stroke-width="1.6" fill="none"/>
<path d="M718.6,392 C717.2,394.6 715.6,400.2 710.5,407.3 C705.4,414.4 691.8,430.1 688,434.7" stroke="#000" stroke-width="1.6" fill="none"/>
<path d="M720.2,392.9 L721.4,430 L722.6,468.4" stroke="#000" stroke-width="2.3" fill="none"/>
<path d="M718.6,392.9 C717.9,398.2 716,413.5 714.6,425 C713.2,436.5 711.2,455.8 710.5,462" stroke="#000" stroke-width="2.1" fill="none"/>
<path d="M714.6,425 L721.4,425 L722.6,468.4 L710.5,462Z" fill="#777" stroke="#777" stroke-width="0.8"/>
<path d="M712,450 L722.2,450 L722.6,468.4 L710.5,462Z" fill="#222" stroke="#222" stroke-width="0.8"/>
<path d="M710.1,462.4 C712.5,463.6 719.6,467.4 724.3,469.5 C729,471.6 734.9,473.5 738.4,474.8 C741.9,476.1 743.9,477.1 745,477.5" stroke="#000" stroke-width="2.7" fill="none"/>
<path d="M747.4,395.9 L748,440 L748,472" stroke="#000" stroke-width="2.7" fill="none"/>
<path d="M749,471.2 L828.1,432.6 L832,433.5 L833.5,437.8 L750.5,481.5 L749,479Z" fill="#000" stroke="#000" stroke-width="0.8"/>
<ellipse cx="754.2" cy="474.9" rx="3.1" ry="1.25" transform="rotate(-16 754.2 474.9)" fill="#fff"/>
<ellipse cx="761.4" cy="471.2" rx="3.1" ry="1.25" transform="rotate(-16 761.4 471.2)" fill="#fff"/>
<ellipse cx="768.6" cy="467.5" rx="3.1" ry="1.25" transform="rotate(-16 768.6 467.5)" fill="#fff"/>
<ellipse cx="775.8" cy="463.7" rx="3.1" ry="1.25" transform="rotate(-16 775.8 463.7)" fill="#fff"/>
<ellipse cx="783.0" cy="460.0" rx="3.1" ry="1.25" transform="rotate(-16 783.0 460.0)" fill="#fff"/>
<ellipse cx="790.1" cy="456.3" rx="3.1" ry="1.25" transform="rotate(-16 790.1 456.3)" fill="#fff"/>
<ellipse cx="797.3" cy="452.6" rx="3.1" ry="1.25" transform="rotate(-16 797.3 452.6)" fill="#fff"/>
<ellipse cx="804.5" cy="448.8" rx="3.1" ry="1.25" transform="rotate(-16 804.5 448.8)" fill="#fff"/>
<ellipse cx="811.7" cy="445.1" rx="3.1" ry="1.25" transform="rotate(-16 811.7 445.1)" fill="#fff"/>
<ellipse cx="818.9" cy="441.4" rx="3.1" ry="1.25" transform="rotate(-16 818.9 441.4)" fill="#fff"/>
<ellipse cx="826.0" cy="437.7" rx="3.1" ry="1.25" transform="rotate(-16 826.0 437.7)" fill="#fff"/>
<path d="M735,472.7 C736.2,473.1 740.1,474 742,475 C743.9,476 745.2,477.6 746.6,478.6 C748,479.6 749.5,480.6 750.1,481" stroke="#000" stroke-width="2.3" fill="none"/>
<path d="M736,471.8 C737,471.8 739.8,471.6 742,471.5 C744.2,471.4 747.8,471.2 749,471.2" stroke="#000" stroke-width="1.7" fill="none"/>
<path d="M832.4,437 C832.5,442.5 832.7,461.2 832.8,470 C832.9,478.8 832.8,485 833,490 C833.2,495 833.8,498.2 834,499.9" stroke="#000" stroke-width="2.7" fill="none"/>
<path d="M834,499.9 C829.9,502.5 818.1,510.2 809.6,515.4 C801.1,520.6 791.1,525.5 783,531 C774.9,536.5 766.6,544.5 760.9,548.7 C755.2,553 750.7,555.2 748.7,556.5" stroke="#000" stroke-width="2.7" fill="none"/>
<path d="M748.8,481.5 L748.3,520 L748.7,556.5" stroke="#000" stroke-width="2.7" fill="none"/>
<path d="M748.7,556.5 C747,555.8 742.2,554 738.7,552 C735.2,550 732,547.2 727.6,544.3 C723.2,541.3 717.7,536.5 712.1,534.3 C706.5,532.1 700.9,530.8 694.3,531 C687.6,531.2 678.3,533.4 672.2,535.4 C666.1,537.4 660.2,541.8 657.8,543.1" stroke="#000" stroke-width="2.7" fill="none"/>
<path d="M710.1,435.9 C707.8,439.7 701,451.7 696,458.9 C691,466.1 685.3,472.4 680,479 C674.7,485.6 666.8,495.4 664.1,498.7" stroke="#000" stroke-width="1.7" fill="none"/>
<path d="M704.8,481 C702.1,483.5 693.8,489.8 688.9,496 C684,502.2 677.8,514.5 675.6,518.2" stroke="#000" stroke-width="1.7" fill="none"/>
<path d="M51.9,563.5 C52,563 52.9,561.5 52.3,560.5 C51.6,559.5 49.5,558.2 48,557.6 C46.5,557 45.2,556.8 43.2,556.9 C41.2,557 38.3,557.3 36,558 C33.7,558.7 31.5,559.6 29.5,560.9 C27.5,562.2 25.4,563.8 24,566 C22.6,568.2 21.2,571.6 20.8,573.9 C20.4,576.2 20.9,578.2 21.5,580 C22.1,581.8 23.1,583.4 24.4,584.7 C25.6,586 27.2,587.2 29,588 C30.8,588.8 33.3,589.2 35.3,589.4 C37.3,589.6 39.2,589.5 41,589.2 C42.8,588.9 44.5,588.4 46.1,587.6 C47.7,586.8 49.3,585.6 50.5,584.5 C51.7,583.4 52.8,582.1 53.4,581.1 C54,580.1 54.1,578.9 54.3,578.5" stroke="#000" stroke-width="2.8" fill="none"/>
<path d="M34.5,579 C35.4,578.8 38.1,578.1 40,577.8 C41.9,577.5 45.1,577.2 46.1,577.1" stroke="#000" stroke-width="2.8" fill="none"/>
<circle cx="53.9" cy="579.6" r="1.9" fill="#000"/>
<circle cx="52" cy="562.8" r="1.3" fill="#000"/>
<ellipse cx="69.9" cy="580.8" rx="8.3" ry="7.4" transform="rotate(0 69.9 580.8)" stroke="#000" stroke-width="2" fill="none"/>
<ellipse cx="95.6" cy="580.8" rx="7.5" ry="6.6" transform="rotate(0 95.6 580.8)" stroke="#000" stroke-width="2" fill="none"/>
<ellipse cx="121.5" cy="581.8" rx="7.3" ry="7" transform="rotate(0 121.5 581.8)" stroke="#000" stroke-width="2" fill="none"/>
<path d="M116.4,565.8 C117.2,565.6 119.3,564.8 121,564.5 C122.7,564.2 125.2,562.9 126.4,564.1 C127.6,565.4 128,569.6 128.4,572 C128.8,574.4 128.7,575.5 128.9,578.3 C129.1,581.1 129,587.1 129.7,589 C130.4,590.9 132.4,589.8 133,589.9" stroke="#000" stroke-width="2.8" fill="none"/>
<path d="M164.4,559.1 C163.2,559.2 159.6,559.1 157.3,559.5 C155.1,559.9 152.4,560.6 150.9,561.4 C149.4,562.1 148.7,563.2 148.6,564 C148.5,564.8 149.2,565.7 150.2,566.2 C151.2,566.7 153.7,566.5 154.7,566.9 C155.7,567.3 155.9,568 156.2,568.5 C156.5,569 156.5,569.8 156.6,570" stroke="#000" stroke-width="2.8" fill="none"/>
<path d="M159.9,568.5 C160.8,568.8 163.4,569.2 165,570.1 C166.6,571 168.5,572.4 169.5,573.9 C170.5,575.4 170.9,577.4 170.8,579.1 C170.7,580.8 170.1,582.7 168.9,584.2 C167.7,585.7 165.8,587.1 163.7,588.1 C161.6,589.1 158.9,589.8 156.6,590 C154.2,590.2 151.5,589.7 149.6,589.1 C147.7,588.5 146.2,587.1 145.1,586.2 C144,585.3 143.2,584 142.8,583.6" stroke="#000" stroke-width="2.8" fill="none"/>
<path d="M192.7,576.6 C191.6,576.6 188.2,576.1 186.1,576.6 C184,577.1 181.5,578.2 180,579.5 C178.5,580.8 177.4,583.2 177.2,584.5 C177,585.8 177.9,586.9 179,587.4 C180.1,587.9 182.3,587.6 184,587.2 C185.7,586.8 188.1,586.4 189.4,585 C190.7,583.6 191.1,580.2 191.6,578.8 C192.1,577.4 192.5,577 192.7,576.6" stroke="#000" stroke-width="2.8" fill="none"/>
<path d="M191.6,578.8 L191.9,584 L192.4,588.3" stroke="#000" stroke-width="2.8" fill="none"/>
<path d="M198.8,576.6 C199.5,577.5 201.5,580.6 202.7,582.2 C203.9,583.9 205.1,585.5 206,586.5 C206.9,587.5 207.4,588.5 208.3,588.3 C209.2,588.1 209.9,586.9 211.6,585.5 C213.2,584.1 216.5,580.5 218.2,580 C219.9,579.5 220.3,581 221.6,582.2 C222.9,583.4 224.7,586.7 226,587.2 C227.3,587.8 228.1,586.8 229.3,585.5 C230.5,584.2 232.5,580.4 233.2,579.4" stroke="#000" stroke-width="2.8" fill="none"/>
<circle cx="242.1" cy="569.4" r="1.4" fill="#000"/>
<path d="M241.6,579.5 L241.5,588.8" stroke="#000" stroke-width="2.8" fill="none"/>
<path d="M251.5,588.8 C251.5,587.5 250.9,582.8 251.5,581.1 C252.1,579.4 253,579 254.8,578.8 C256.7,578.6 260.6,579.1 262.6,580 C264.6,580.9 266.4,582.8 267,584.4 C267.6,586 266.1,588.6 265.9,589.4" stroke="#000" stroke-width="2.8" fill="none"/>
<ellipse cx="285.5" cy="584.8" rx="7.7" ry="6" transform="rotate(-8 285.5 584.8)" stroke="#000" stroke-width="2" fill="none"/>
<path d="M281.7,590.5 C281.8,591.1 281.9,593.3 282.5,594.3 C283.1,595.2 283.4,595.8 285,596.2 C286.6,596.6 290.1,596.1 291.9,596.8 C293.6,597.5 294.8,598.8 295.5,600.4 C296.2,602 296.7,604.3 296.2,606.2 C295.7,608.1 294.4,610.7 292.6,611.9 C290.8,613.1 287.9,613.5 285.4,613.4 C282.9,613.3 279.7,612.3 277.4,611.2 C275.1,610.1 272.6,607.6 271.6,606.9" stroke="#000" stroke-width="2.8" fill="none"/>
<path d="M555.1,565.5 L554.6,578 L554.1,589.1" stroke="#000" stroke-width="2.8" fill="none"/>
<path d="M548.6,563.6 C550.3,563.8 556.1,564 558.8,564.6 C561.4,565.2 563.2,566.1 564.5,567.4 C565.8,568.6 566.5,570.5 566.4,572.1 C566.2,573.7 564.9,575.8 563.6,576.8 C562.3,577.8 559.6,578 558.8,578.3" stroke="#000" stroke-width="2.8" fill="none"/>
<circle cx="549.6" cy="564.1" r="1.6" fill="#000"/>
<path d="M558.8,578.3 C560.2,578.5 565.6,578.5 567.3,579.7 C569,580.9 569.4,583.2 569.2,585.3 C569.1,587.3 568.1,590.4 566.4,592 C564.7,593.6 561.3,594.6 558.8,594.8 C556.3,594.9 553.2,594 551.3,592.9 C549.3,591.8 547.8,589 547.1,588.2" stroke="#000" stroke-width="2.8" fill="none"/>
<ellipse cx="584.3" cy="585.6" rx="7.9" ry="4.9" transform="rotate(-38 584.3 585.6)" stroke="#000" stroke-width="2" fill="none"/>
<path d="M591.4,579.7 C591.5,580.7 591.6,583.6 591.8,585.5 C591.9,587.4 592.2,590.1 592.3,591" stroke="#000" stroke-width="2.8" fill="none"/>
<ellipse cx="608.6" cy="586.4" rx="7.3" ry="4.7" transform="rotate(-38 608.6 586.4)" stroke="#000" stroke-width="2" fill="none"/>
<path d="M607.9,568.4 C608.5,568.3 610.2,568 611.5,567.8 C612.8,567.6 614.6,565.7 615.4,567.4 C616.2,569.1 616,574.2 616.3,578 C616.6,581.8 616.8,587.8 617.3,590 C617.8,592.2 619.1,590.8 619.5,591" stroke="#000" stroke-width="2.8" fill="none"/>
<path d="M664.8,562.7 C664,562.9 661.3,563.1 659.8,563.8 C658.3,564.4 656.3,565.9 655.6,566.6 C654.9,567.4 654.9,567.9 655.4,568.3 C655.9,568.7 657.3,569 658.6,569.2 C659.9,569.4 662.3,569.3 663.4,569.6 C664.5,569.9 664.7,570.8 665,571" stroke="#000" stroke-width="2.8" fill="none"/>
<path d="M670.6,561.6 L669.8,564.8" stroke="#000" stroke-width="3.3" fill="none"/>
<path d="M664.5,571.2 L661.4,574.2" stroke="#000" stroke-width="2.8" fill="none"/>
<path d="M662.5,572.3 C663.8,572.5 668.2,572.8 670.4,573.7 C672.5,574.6 674.4,576.2 675.4,577.9 C676.4,579.5 676.5,581.7 676.1,583.6 C675.8,585.5 674.8,587.8 673.3,589.3 C671.8,590.8 669.5,592 666.9,592.8 C664.3,593.6 660.4,594.2 657.7,594.2 C655,594.2 652.6,593.6 650.6,592.8 C648.6,592 646.5,589.9 645.7,589.3" stroke="#000" stroke-width="2.8" fill="none"/>
<path d="M692.2,574.8 C692.8,575.1 694.8,576.1 696,576.6 C697.2,577.1 698.5,577.3 699.5,578 C700.5,578.7 701.4,579.7 702,581 C702.6,582.3 703.4,584.4 703.2,586 C703,587.6 702.5,589.5 701,590.5 C699.5,591.5 696.3,591.8 694,591.8 C691.7,591.8 688.5,591.5 687,590.6 C685.5,589.7 685,588.2 684.9,586.5 C684.8,584.8 685.5,582 686.5,580.5 C687.5,579 689.2,578 691,577.5 C692.8,577 696,577.2 697,577.2" stroke="#000" stroke-width="2.8" fill="none"/>
<path d="M709.3,579 C709.9,580.1 711.7,583.7 712.9,585.7 C714.1,587.7 715.4,590.8 716.6,591.2 C717.8,591.6 718.6,589.7 720.2,588.2 C721.8,586.7 724.5,582.5 726.3,582.1 C728.1,581.7 729.4,584.3 731.2,585.7 C733,587.1 735.5,590.4 737.3,590.6 C739.1,590.8 740.4,588.6 742.2,587 C744,585.4 747.3,581.9 748.3,580.9" stroke="#000" stroke-width="2.8" fill="none"/>
<path d="M758,580.9 L757.4,591.2" stroke="#000" stroke-width="2.8" fill="none"/>
<path d="M770.9,591.2 C770.9,589.7 770,583.9 770.9,582.1 C771.8,580.3 774,580.4 776.3,580.2 C778.6,580 782.9,580 784.9,580.9 C786.9,581.8 788.1,584.2 788.5,585.7 C788.9,587.2 787.5,589.3 787.3,590" stroke="#000" stroke-width="2.8" fill="none"/>
<ellipse cx="809.9" cy="585.7" rx="8.8" ry="6.4" transform="rotate(0 809.9 585.7)" stroke="#000" stroke-width="2" fill="none"/>
<path d="M805.7,591.7 C805.6,592.3 804.9,594.5 805.2,595.5 C805.5,596.5 806.4,597.3 807.5,597.8 C808.6,598.3 810.5,598.3 812,598.6 C813.5,598.9 815.1,598.5 816.3,599.5 C817.5,600.5 818.9,602.6 819.1,604.4 C819.3,606.2 818.9,608.5 817.7,610.1 C816.5,611.8 814.5,613.5 812.1,614.3 C809.8,615.1 806.2,615.5 803.6,615 C801,614.5 798,613.1 796.5,611.5 C795,609.9 794.8,606.2 794.4,605.1" stroke="#000" stroke-width="2.8" fill="none"/>
</g>
</svg>
</body></html>
